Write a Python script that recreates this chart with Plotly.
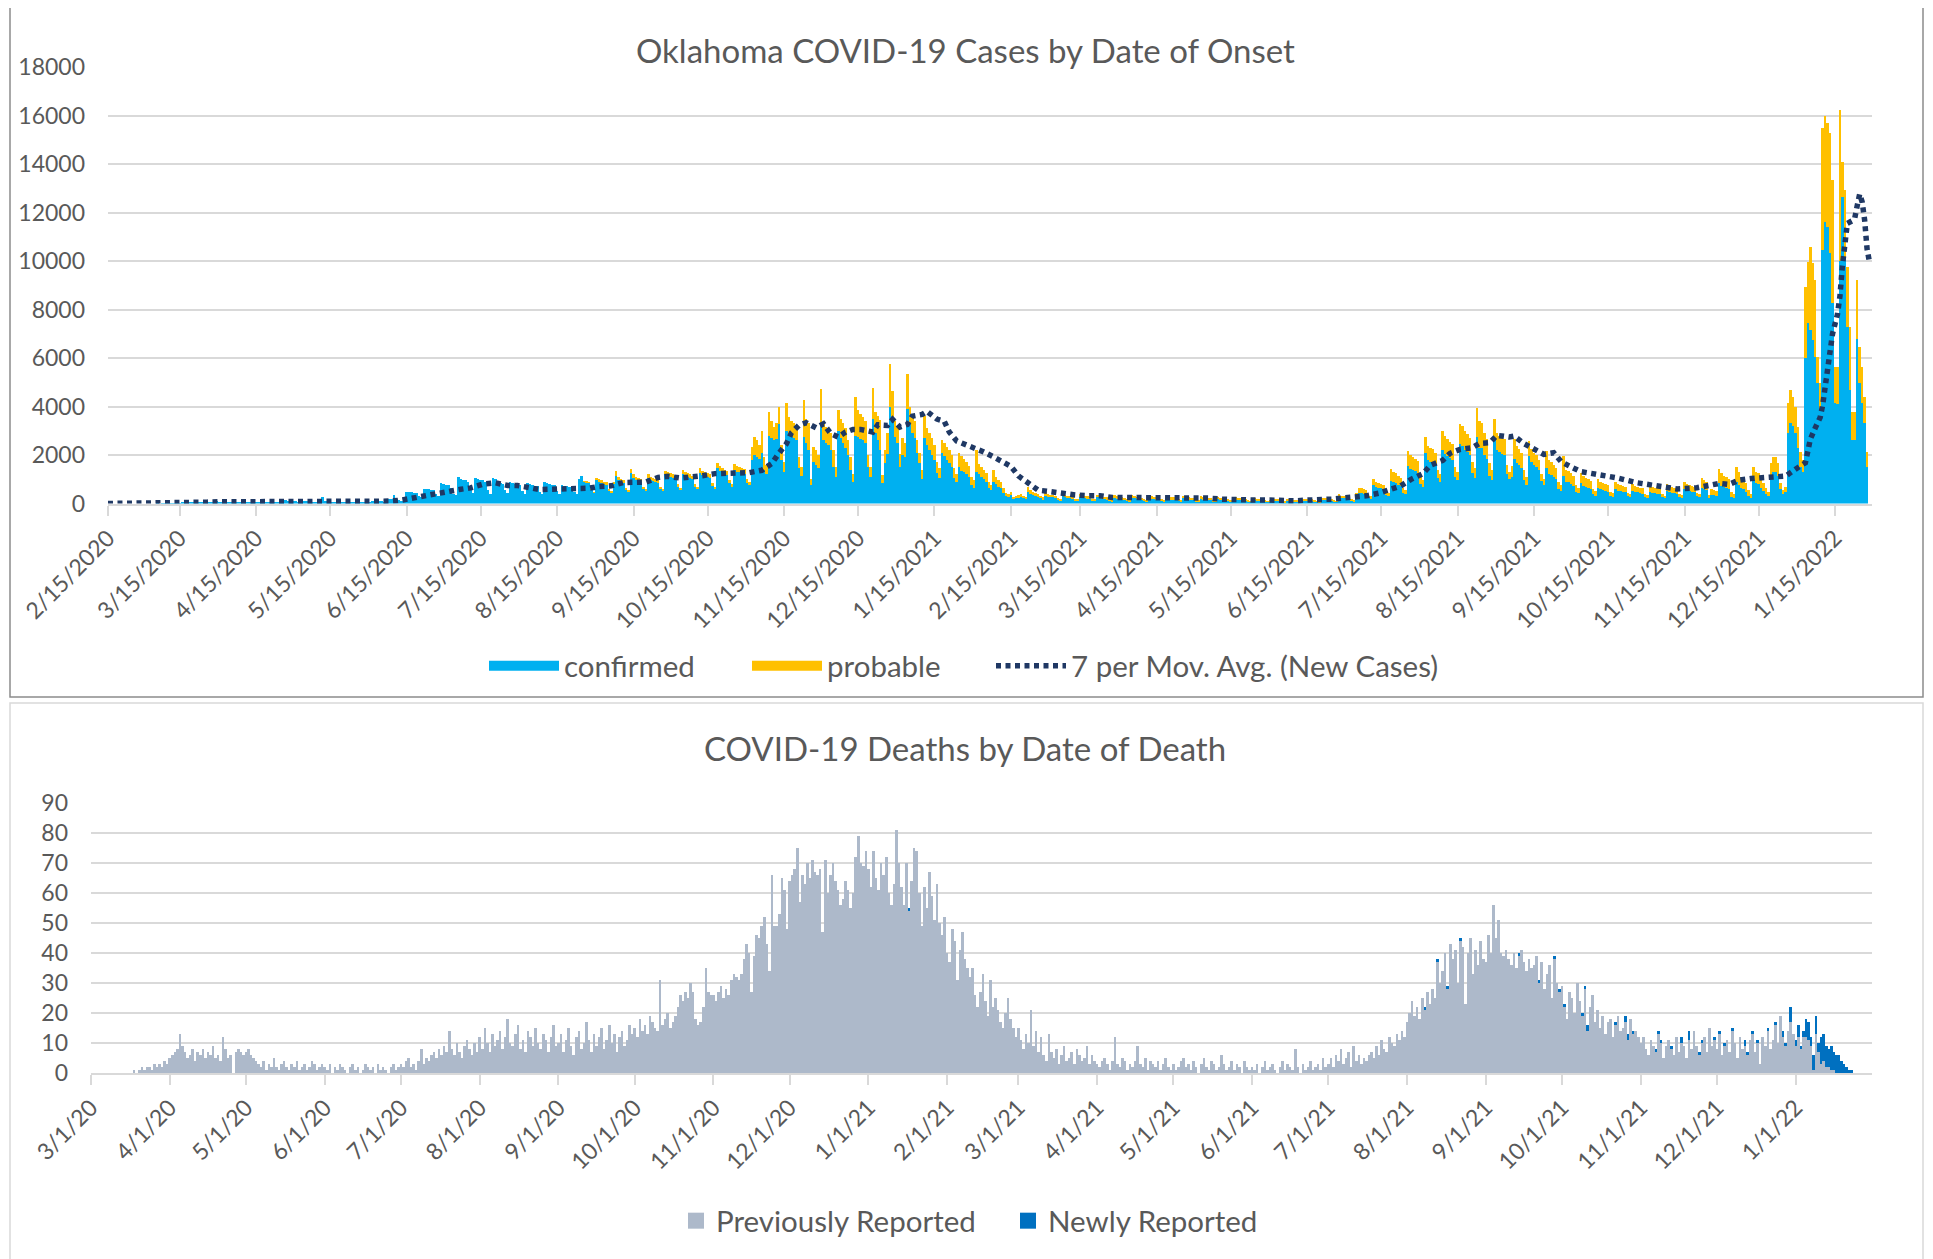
import pandas as pd
import plotly.graph_objects as go

# ---------------- Cases by date of onset (daily, from 2020-02-15) ----------------
case_start = "2020-02-15"

confirmed = [
    0, 0,
    0, 0, 0, 0, 0, 0, 0,
    0, 0, 0, 0, 0, 0, 0,
    0, 0, 0, 0, 1, 0, 1,
    2, 3, 5, 8, 10, 6, 7,
    25, 30, 35, 40, 38, 25, 22,
    60, 65, 70, 72, 68, 45, 40,
    85, 80, 78, 75, 70, 48, 42,
    80, 78, 72, 70, 65, 45, 40,
    75, 70, 68, 62, 60, 40, 35,
    80, 75, 70, 65, 62, 42, 38,
    150, 110, 95, 90, 85, 55, 45,
    110, 95, 90, 85, 80, 50, 45,
    100, 250, 90, 85, 80, 50, 45,
    90, 80, 75, 70, 65, 45, 40,
    60, 85, 80, 75, 70, 45, 40,
    110, 100, 95, 90, 85, 55, 50,
    200, 180, 350, 170, 160, 110, 100,
    490, 470, 460, 450, 430, 300, 260,
    600, 590, 580, 560, 540, 380, 330,
    840, 800, 780, 770, 620, 380, 350,
    1100, 1000, 980, 950, 900, 600, 420,
    1050, 1000, 980, 950, 900, 550, 400,
    1050, 1000, 900, 850, 800, 550, 450,
    900, 840, 800, 780, 760, 500, 400,
    840, 800, 760, 740, 720, 480, 380,
    880, 830, 800, 780, 760, 500, 400,
    780, 740, 720, 700, 680, 460, 380,
    1000, 1150, 900, 880, 850, 560, 450,
    950, 900, 860, 820, 800, 540, 450,
    800, 1150, 980, 900, 860, 580, 490,
    1250, 1060, 980, 940, 890, 620, 530,
    1060, 980, 930, 890, 840, 620, 530,
    1200, 1150, 1100, 1060, 1010, 700, 570,
    1230, 1140, 1100, 1050, 1010, 700, 610,
    1270, 1180, 1140, 1090, 1050, 740, 610,
    1450, 1360, 1270, 1230, 1180, 830, 700,
    1400, 1300, 1280, 1230, 1200, 850, 780,
    1780, 2000, 1900, 1850, 2100, 1400, 1200,
    2800, 2700, 2600, 2650, 3290, 1800, 1300,
    3000, 2880, 2750, 2700, 2600, 1450, 1150,
    2740, 2500, 2200, 750, 1700, 1600, 1450,
    3220, 2600, 2500, 2400, 2200, 1500, 1100,
    3000, 2700, 2500, 2300, 2000, 1400, 900,
    2800, 2740, 2650, 2600, 2500, 1500, 1100,
    3500, 2900, 2600, 2200, 850, 1650, 2050,
    3970, 3400, 2740, 2500, 1500, 2000, 1900,
    3900, 3300, 2900, 2700, 2100, 1650, 1000,
    2700, 2400, 2200, 2000, 1800, 1250, 1050,
    2100, 1950, 1800, 1650, 1500, 1050, 900,
    1500, 1350, 1300, 1200, 1100, 750, 650,
    1300, 1230, 1100, 1000, 900, 650, 550,
    890, 820, 700, 620, 420, 300, 280,
    340, 200, 210, 240, 280, 210, 200,
    480, 400, 340, 300, 280, 210, 180,
    330, 280, 260, 250, 230, 150, 130,
    300, 250, 235, 220, 205, 140, 115,
    270, 230, 215, 205, 190, 130, 105,
    250, 215, 205, 190, 175, 120, 100,
    240, 205, 200, 185, 170, 115, 95,
    240, 210, 200, 185, 170, 115, 95,
    235, 205, 190, 185, 170, 115, 95,
    225, 200, 185, 175, 165, 105, 85,
    210, 190, 175, 170, 155, 100, 80,
    205, 185, 170, 160, 150, 100, 80,
    190, 170, 160, 155, 140, 90, 70,
    175, 155, 150, 140, 135, 85, 70,
    170, 150, 140, 135, 120, 80, 65,
    100, 125, 120, 110, 105, 65, 50,
    125, 110, 105, 100, 90, 55, 50,
    130, 120, 110, 105, 100, 65, 50,
    170, 155, 150, 140, 135, 85, 70,
    260, 230, 215, 210, 180, 105, 90,
    300, 430, 420, 400, 370, 220, 200,
    770, 690, 650, 630, 600, 370, 320,
    940, 870, 840, 770, 720, 440, 380,
    1550, 1440, 1370, 1330, 1260, 790, 680,
    2070, 1780, 1730, 1680, 1580, 1050, 900,
    2190, 2050, 1940, 1870, 1790, 1100, 950,
    2440, 2370, 2220, 2110, 2000, 1260, 1070,
    2740, 2300, 2280, 2000, 1830, 1140, 970,
    2650, 2200, 2120, 2050, 2000, 1210, 990,
    1080, 1850, 1660, 1580, 1470, 980, 770,
    1960, 1700, 1600, 1520, 1370, 910, 760,
    1480, 1230, 1160, 1090, 990, 610, 510,
    1140, 900, 870, 800, 740, 480, 420,
    830, 740, 680, 650, 600, 390, 320,
    650, 590, 550, 520, 490, 310, 270,
    590, 520, 510, 480, 460, 290, 250,
    520, 470, 460, 430, 400, 260, 230,
    490, 440, 420, 400, 380, 250, 210,
    520, 460, 440, 420, 400, 260, 220,
    580, 520, 510, 480, 460, 290, 250,
    650, 590, 560, 220, 370, 340, 310,
    830, 730, 670, 640, 580, 280, 240,
    890, 770, 650, 610, 490, 320, 240,
    960, 840, 790, 660, 530, 400, 310,
    1170, 1300, 1300, 1150, 600, 400, 480,
    2890, 3300, 3200, 2900, 2300, 1500, 1300,
    5980, 7425, 7150, 6740, 6050, 4950, 3850,
    10450, 11620, 11410, 10310, 8250, 4130, 4100,
    10000, 12650, 10175, 7290, 4675, 2610, 2610,
    6800, 4950, 4125, 3300, 1510,
]

probable = [
    0, 0,
    0, 0, 0, 0, 0, 0, 0,
    0, 0, 0, 0, 0, 0, 0,
    0, 0, 0, 0, 0, 0, 0,
    0, 0, 0, 0, 0, 0, 0,
    0, 0, 0, 0, 0, 0, 0,
    0, 0, 0, 0, 0, 0, 0,
    0, 0, 0, 0, 0, 0, 0,
    0, 0, 0, 0, 0, 0, 0,
    0, 0, 0, 0, 0, 0, 0,
    0, 0, 0, 0, 0, 0, 0,
    0, 0, 0, 0, 0, 0, 0,
    0, 0, 0, 0, 0, 0, 0,
    0, 0, 0, 0, 0, 0, 0,
    0, 0, 0, 0, 0, 0, 0,
    0, 0, 0, 0, 0, 0, 0,
    0, 0, 0, 0, 0, 0, 0,
    0, 0, 0, 0, 0, 0, 0,
    0, 0, 0, 0, 0, 0, 0,
    0, 0, 0, 0, 0, 0, 0,
    0, 0, 0, 0, 0, 0, 0,
    0, 0, 0, 0, 0, 0, 0,
    0, 0, 0, 0, 0, 0, 0,
    0, 0, 0, 0, 0, 0, 0,
    0, 0, 0, 0, 0, 0, 0,
    0, 0, 0, 0, 0, 0, 0,
    0, 0, 0, 0, 0, 0, 0,
    0, 0, 0, 0, 0, 0, 0,
    0, 0, 10, 10, 10, 10, 10,
    120, 100, 90, 80, 80, 60, 50,
    100, 180, 120, 100, 90, 70, 60,
    190, 140, 120, 110, 110, 80, 70,
    140, 120, 120, 110, 110, 80, 70,
    150, 150, 150, 140, 140, 100, 80,
    170, 160, 150, 150, 140, 100, 90,
    180, 170, 160, 160, 150, 110, 90,
    200, 190, 180, 170, 170, 120, 100,
    240, 250, 220, 220, 240, 150, 120,
    550, 740, 700, 550, 900, 500, 400,
    970, 700, 550, 650, 680, 600, 400,
    1140, 680, 650, 600, 550, 450, 350,
    1510, 1000, 1100, 280, 630, 600, 550,
    1510, 700, 650, 600, 700, 700, 400,
    860, 800, 800, 800, 600, 500, 330,
    1580, 1100, 1050, 960, 900, 500, 400,
    1270, 870, 1000, 1230, 310, 550, 850,
    1780, 1250, 660, 700, 550, 700, 600,
    1440, 700, 800, 700, 500, 450, 370,
    900, 700, 700, 700, 600, 450, 400,
    500, 550, 550, 550, 500, 400, 300,
    600, 600, 550, 500, 450, 350, 300,
    890, 410, 400, 400, 350, 250, 200,
    480, 280, 250, 280, 200, 150, 120,
    140, 70, 90, 100, 120, 90, 80,
    200, 150, 140, 120, 120, 90, 70,
    150, 120, 110, 100, 100, 70, 50,
    120, 100, 95, 90, 85, 60, 45,
    110, 90, 85, 85, 80, 50, 45,
    100, 85, 85, 80, 75, 50, 40,
    100, 85, 80, 75, 70, 45, 35,
    100, 90, 80, 75, 70, 45, 35,
    95, 85, 80, 75, 70, 45, 35,
    95, 80, 75, 75, 65, 45, 35,
    90, 80, 75, 70, 65, 40, 30,
    85, 75, 70, 70, 60, 40, 30,
    80, 70, 70, 65, 60, 40, 30,
    75, 65, 60, 60, 55, 35, 30,
    70, 60, 60, 55, 50, 30, 25,
    40, 55, 50, 50, 45, 25, 20,
    55, 50, 45, 40, 40, 25, 20,
    60, 50, 50, 45, 40, 25, 20,
    70, 65, 60, 60, 55, 35, 30,
    120, 100, 95, 90, 80, 45, 40,
    150, 220, 210, 200, 190, 110, 100,
    230, 210, 200, 190, 180, 110, 100,
    470, 430, 410, 380, 350, 210, 180,
    610, 560, 530, 520, 490, 310, 270,
    680, 590, 570, 550, 520, 350, 300,
    800, 750, 710, 680, 660, 400, 350,
    850, 830, 780, 740, 700, 440, 380,
    1210, 1100, 1020, 900, 820, 510, 430,
    820, 700, 680, 650, 640, 390, 310,
    470, 790, 710, 670, 630, 420, 330,
    620, 530, 500, 480, 430, 290, 240,
    680, 570, 540, 510, 460, 290, 240,
    820, 500, 480, 450, 410, 270, 230,
    440, 400, 370, 350, 330, 210, 180,
    350, 310, 300, 280, 260, 170, 150,
    310, 280, 270, 260, 240, 160, 130,
    280, 250, 240, 230, 220, 140, 120,
    260, 240, 230, 220, 200, 130, 110,
    280, 240, 240, 230, 220, 140, 120,
    320, 280, 270, 260, 240, 160, 130,
    400, 360, 340, 130, 230, 210, 190,
    610, 520, 480, 460, 420, 200, 170,
    620, 540, 450, 420, 340, 230, 170,
    550, 470, 450, 370, 300, 220, 170,
    480, 625, 625, 500, 230, 150, 210,
    1240, 1380, 1200, 1090, 860, 630, 500,
    2960, 2545, 3440, 3160, 3160, 1100, 1100,
    5020, 4380, 4270, 4950, 5090, 1510, 1540,
    6230, 1450, 2750, 2470, 2615, 1170, 1170,
    2410, 1510, 1515, 1100, 620,
]

# 7-day moving average of new cases
ma_dates = [
    "2020-02-15", "2020-02-25", "2020-03-06", "2020-03-16", "2020-03-21", "2020-03-26",
    "2020-03-31", "2020-04-10", "2020-04-20", "2020-04-29", "2020-05-09", "2020-05-19",
    "2020-05-29", "2020-06-03", "2020-06-08", "2020-06-13", "2020-06-17", "2020-06-22",
    "2020-06-27", "2020-07-02", "2020-07-07", "2020-07-11", "2020-07-16", "2020-07-21",
    "2020-07-26", "2020-07-30", "2020-08-04", "2020-08-08", "2020-08-13", "2020-08-18",
    "2020-08-23", "2020-08-28", "2020-09-01", "2020-09-06", "2020-09-11", "2020-09-15",
    "2020-09-20", "2020-09-25", "2020-09-29", "2020-10-04", "2020-10-09", "2020-10-13",
    "2020-10-18", "2020-10-23", "2020-10-27", "2020-11-01", "2020-11-06", "2020-11-10",
    "2020-11-13", "2020-11-16", "2020-11-18", "2020-11-21", "2020-11-24", "2020-11-28",
    "2020-12-01", "2020-12-04", "2020-12-07", "2020-12-10", "2020-12-13", "2020-12-16",
    "2020-12-21", "2020-12-23", "2020-12-27", "2020-12-29", "2021-01-01", "2021-01-04",
    "2021-01-06", "2021-01-10", "2021-01-12", "2021-01-16", "2021-01-19", "2021-01-21",
    "2021-01-24", "2021-01-28", "2021-02-01", "2021-02-04", "2021-02-08", "2021-02-11",
    "2021-02-15", "2021-02-18", "2021-02-22", "2021-02-26", "2021-03-03", "2021-03-08",
    "2021-03-13", "2021-03-18", "2021-03-23", "2021-03-28", "2021-04-02", "2021-04-06",
    "2021-04-11", "2021-04-17", "2021-04-21", "2021-04-26", "2021-05-01", "2021-05-06",
    "2021-05-11", "2021-05-16", "2021-05-21", "2021-05-26", "2021-05-31", "2021-06-05",
    "2021-06-10", "2021-06-15", "2021-06-20", "2021-06-25", "2021-06-29", "2021-07-04",
    "2021-07-09", "2021-07-14", "2021-07-19", "2021-07-23", "2021-07-27", "2021-08-01",
    "2021-08-04", "2021-08-09", "2021-08-12", "2021-08-16", "2021-08-21", "2021-08-24",
    "2021-08-28", "2021-08-31", "2021-09-05", "2021-09-07", "2021-09-11", "2021-09-15",
    "2021-09-19", "2021-09-23", "2021-09-26", "2021-09-30", "2021-10-04", "2021-10-08",
    "2021-10-13", "2021-10-19", "2021-10-27", "2021-11-04", "2021-11-12", "2021-11-20",
    "2021-11-26", "2021-11-29", "2021-12-03", "2021-12-07", "2021-12-12", "2021-12-17",
    "2021-12-22", "2021-12-26", "2021-12-30", "2022-01-03", "2022-01-04", "2022-01-05",
    "2022-01-07", "2022-01-09", "2022-01-10", "2022-01-11", "2022-01-12", "2022-01-13",
    "2022-01-14", "2022-01-16", "2022-01-17", "2022-01-18", "2022-01-19", "2022-01-20",
    "2022-01-22", "2022-01-23", "2022-01-24", "2022-01-25", "2022-01-26", "2022-01-27",
    "2022-01-28", "2022-01-29",
]
ma_values = [
    0, 0, 0, 5, 28, 56,
    70, 70, 65, 65, 70, 80,
    65, 55, 98, 140, 224, 322,
    392, 490, 588, 644, 798, 854,
    742, 742, 672, 574, 588, 602,
    630, 630, 700, 728, 868, 882,
    882, 1078, 1120, 1050, 1092, 1148,
    1232, 1232, 1240, 1274, 1370, 1644,
    2082, 2466, 2918, 3220, 3329, 3124,
    3288, 2877, 2740, 2946, 3055, 3055,
    2946, 3247, 3220, 3466, 3151, 3261,
    3603, 3672, 3795, 3480, 3384, 2946,
    2576, 2425, 2260, 2124, 1918, 1740,
    1530, 1140, 810, 550, 490, 400,
    350, 322, 322, 250, 250, 225,
    225, 225, 225, 225, 195, 225,
    180, 150, 140, 140, 140, 110,
    110, 140, 140, 180, 220, 247,
    315, 425, 560, 726, 986, 1233,
    1575, 1780, 2070, 2233, 2300, 2480,
    2507, 2808, 2740, 2781, 2466, 2233,
    2028, 2096, 1726, 1507, 1315, 1247,
    1164, 1050, 850, 700, 600, 650,
    750, 825, 784, 960, 1030, 1060,
    1100, 1130, 1416, 1680, 2160, 2650,
    3120, 3550, 4060, 4800, 5570, 6300,
    7000, 7800, 8550, 9800, 10800, 11550,
    11660, 11760, 12280, 12760, 12440, 11700,
    10500, 9940,
]

# ---------------- Deaths by date of death (daily, from 2020-03-01) ----------------
death_start = "2020-03-01"
previously_reported = [
    # Mar 2020
    0, 0, 0, 0, 0, 0, 0, 0, 0, 0, 0, 0, 0, 0, 0, 0, 0, 1, 0, 1, 2, 1, 2, 2, 1, 3, 2, 3, 2, 4, 3,
    # Apr 2020
    5, 6, 7, 8, 13, 9, 7, 5, 6, 8, 4, 7, 6, 8, 5, 7, 6, 9, 5, 6, 4, 12, 8, 5, 6, 0, 7, 8, 7, 6,
    # May 2020
    7, 8, 6, 5, 4, 3, 2, 4, 1, 3, 2, 5, 2, 1, 3, 4, 2, 1, 3, 2, 4, 1, 2, 3, 1, 2, 4, 3, 1, 2, 3,
    # Jun 2020
    2, 1, 3, 0, 2, 1, 3, 2, 1, 0, 2, 3, 1, 2, 0, 1, 3, 2, 1, 2, 0, 3, 1, 2, 1, 0, 2, 3, 1, 2,
    # Jul 2020
    3, 2, 4, 5, 2, 3, 1, 4, 8, 3, 5, 4, 6, 7, 5, 8, 6, 9, 7, 14, 8, 6, 10, 7, 5, 9, 11, 8, 6, 10, 7,
    # Aug 2020
    12, 8, 15, 10, 7, 13, 9, 11, 14, 8, 12, 18, 10, 9, 13, 16, 8, 11, 7, 14, 12, 9, 15, 10, 8, 13, 11, 7, 12, 16, 9,
    # Sep 2020
    10, 13, 7, 11, 15, 9, 6, 12, 14, 8, 10, 17, 11, 7, 13, 9, 12, 15, 8, 11, 16, 10, 13, 7, 12, 14, 9, 11, 16, 13,
    # Oct 2020
    15, 12, 18, 14, 16, 13, 19, 17, 15, 14, 31, 16, 18, 20, 15, 17, 19, 22, 26, 24, 27, 25, 30, 27, 18, 16, 17, 22, 35, 27, 26,
    # Nov 2020
    26, 24, 27, 29, 25, 28, 26, 31, 33, 32, 31, 33, 38, 43, 40, 27, 39, 46, 45, 49, 52, 43, 34, 66, 49, 49, 53, 65, 61, 48,
    # Dec 2020
    64, 66, 68, 75, 57, 66, 63, 70, 65, 71, 67, 66, 68, 47, 71, 60, 66, 70, 64, 61, 56, 58, 64, 61, 55, 60, 72, 79, 70, 69, 74,
    # Jan 2021
    68, 62, 74, 65, 61, 70, 66, 72, 60, 56, 63, 81, 70, 62, 56, 70, 54, 64, 75, 74, 60, 49, 62, 55, 67, 59, 51, 63, 50, 46, 52,
    # Feb 2021
    40, 37, 48, 44, 31, 41, 47, 38, 35, 32, 35, 26, 22, 27, 33, 24, 19, 31, 22, 25, 21, 17, 15, 20, 25, 18, 15, 12,
    # Mar 2021
    15, 11, 8, 13, 10, 21, 9, 14, 7, 12, 6, 4, 13, 7, 5, 8, 3, 6, 9, 4, 5, 7, 3, 8, 6, 4, 5, 9, 3, 6, 4,
    # Apr 2021
    3, 2, 4, 5, 3, 1, 4, 12, 3, 2, 5, 4, 1, 3, 2, 4, 9, 3, 2, 5, 1, 4, 3, 2, 4, 1, 3, 5, 2, 1,
    # May 2021
    3, 1, 2, 4, 5, 2, 3, 1, 4, 2, 0, 3, 5, 2, 1, 4, 3, 1, 2, 6, 3, 1, 2, 4, 1, 3, 2, 0, 4, 2, 1,
    # Jun 2021
    2, 1, 3, 0, 2, 4, 1, 2, 3, 1, 0, 2, 4, 1, 3, 2, 1, 8, 2, 0, 3, 1, 2, 4, 1, 2, 3, 1, 5, 2,
    # Jul 2021
    3, 5, 2, 6, 4, 8, 3, 5, 7, 2, 9, 4, 6, 3, 5, 4, 6, 7, 5, 9, 6, 11, 8, 7, 12, 10, 9, 13, 11, 14, 12,
    # Aug 2021
    17, 20, 24, 19, 22, 18, 25, 21, 27, 23, 28, 25, 37, 30, 34, 40, 28, 43, 38, 41, 30, 44, 42, 23, 40, 45, 33, 41, 36, 44, 38,
    # Sep 2021
    37, 46, 40, 56, 45, 51, 40, 39, 41, 38, 36, 40, 35, 39, 41, 37, 34, 38, 35, 36, 39, 30, 37, 28, 33, 36, 25, 38, 30, 27,
    # Oct 2021
    29, 22, 18, 27, 25, 20, 30, 24, 19, 28, 14, 22, 26, 17, 21, 15, 19, 13, 17, 18, 12, 16, 19, 14, 15, 17, 11, 18, 13, 14, 12,
    # Nov 2021
    10, 12, 8, 6, 11, 9, 7, 13, 10, 5, 9, 11, 8, 6, 12, 7, 10, 9, 5, 11, 8, 14, 9, 6, 10, 12, 7, 15, 9, 11,
    # Dec 2021
    8, 13, 6, 9, 11, 7, 14, 10, 5, 12, 8, 9, 6, 11, 13, 7, 10, 3, 12, 9, 14, 8, 11, 16, 10, 19, 12, 9, 14, 17, 13,
    # Jan 2022
    9, 12, 8, 12, 12, 11, 9, 1, 13, 7, 3, 4, 2, 2, 1, 1, 0, 0, 0, 0, 0, 0, 0,
]

newly_dates = [
    "2021-01-17",
    "2021-08-08", "2021-08-13", "2021-08-17", "2021-08-22",
    "2021-09-14", "2021-09-22", "2021-09-28", "2021-09-30",
    "2021-10-02", "2021-10-09", "2021-10-10", "2021-10-11", "2021-10-22", "2021-10-26", "2021-10-27", "2021-10-29",
    "2021-11-07", "2021-11-08", "2021-11-09", "2021-11-13", "2021-11-17", "2021-11-20", "2021-11-24", "2021-11-25", "2021-11-30",
    "2021-12-02", "2021-12-04", "2021-12-07", "2021-12-12", "2021-12-13", "2021-12-15", "2021-12-16", "2021-12-17",
    "2021-12-21", "2021-12-24", "2021-12-27", "2021-12-28", "2021-12-30",
    "2022-01-01", "2022-01-02", "2022-01-03", "2022-01-04", "2022-01-05", "2022-01-06", "2022-01-07", "2022-01-08",
    "2022-01-09", "2022-01-10", "2022-01-11", "2022-01-12", "2022-01-13", "2022-01-14", "2022-01-15", "2022-01-16",
    "2022-01-17", "2022-01-18", "2022-01-19", "2022-01-20", "2022-01-21", "2022-01-22", "2022-01-23",
]
newly_values = [
    1,
    1, 1, 1, 1,
    1, 1, 1, 1,
    1, 1, 1, 2, 1, 2, 2, 1,
    1, 1, 1, 1, 2, 3, 1, 1, 1,
    1, 1, 1, 2, 1, 1, -1, 1,
    1, 1, 2, 1, 5,
    2, 4, 1, 2, 6, 6, 3, 5,
    6, 3, 9, 9, 7, 6, 8, 6,
    6, 6, 4, 3, 2, 1, 1,
]

assert len(confirmed) == len(probable)
assert len(ma_dates) == len(ma_values)
assert len(newly_dates) == len(newly_values)

case_dates = pd.date_range(case_start, periods=len(confirmed), freq="D")
death_dates = pd.date_range(death_start, periods=len(previously_reported), freq="D")
newly = (pd.Series(newly_values, index=pd.to_datetime(newly_dates))
         .reindex(death_dates, fill_value=0))

# ---------------- Figure ----------------
# the page body has an 8px margin, so the figure is sized/placed to compensate
OFF = 8
W, H = 1933 - OFF, 1259 - OFF


def px_x(p):
    return (p - OFF) / W


def px_y(p):
    return 1 - (p - OFF) / H


FONT = "Lato, 'Open Sans', sans-serif"
GREY = "#595959"
GRID = "#d9d9d9"
C_CONF, C_PROB, C_MA = "#00B0F0", "#FFC000", "#1F3864"
C_PREV, C_NEW = "#ADB9CA", "#0070C0"

fig = go.Figure()

fig.add_trace(go.Bar(x=case_dates, y=confirmed, name="confirmed",
                     marker=dict(color=C_CONF, line=dict(width=0)),
                     xaxis="x", yaxis="y", showlegend=False))
fig.add_trace(go.Bar(x=case_dates, y=probable, name="probable",
                     marker=dict(color=C_PROB, line=dict(width=0)),
                     xaxis="x", yaxis="y", showlegend=False))
fig.add_trace(go.Scatter(x=pd.to_datetime(ma_dates), y=ma_values, mode="lines",
                         name="7 per Mov. Avg. (New Cases)",
                         line=dict(color=C_MA, width=5.5, dash="5px,4.5px"),
                         xaxis="x", yaxis="y", legend="legend", legendrank=3))
# legend keys for the stacked columns (wide Excel-style keys)
fig.add_trace(go.Scatter(x=[None], y=[None], mode="lines", name="confirmed",
                         line=dict(color=C_CONF, width=18), legendwidth=178,
                         xaxis="x", yaxis="y", legend="legend", legendrank=1))
fig.add_trace(go.Scatter(x=[None], y=[None], mode="lines", name="probable",
                         line=dict(color=C_PROB, width=18), legendwidth=159,
                         xaxis="x", yaxis="y", legend="legend", legendrank=2))

fig.add_trace(go.Bar(x=death_dates, y=previously_reported, name="Previously Reported",
                     marker=dict(color=C_PREV, line=dict(width=0)),
                     xaxis="x2", yaxis="y2", showlegend=False))
fig.add_trace(go.Bar(x=death_dates, y=newly.values, name="Newly Reported",
                     marker=dict(color=C_NEW, line=dict(width=0)),
                     xaxis="x2", yaxis="y2", showlegend=False))
fig.add_trace(go.Scatter(x=[None], y=[None], mode="markers", name="Previously Reported",
                         marker=dict(color=C_PREV, size=18, symbol="square"), legendwidth=287,
                         xaxis="x2", yaxis="y2", legend="legend2", legendrank=1))
fig.add_trace(go.Scatter(x=[None], y=[None], mode="markers", name="Newly Reported",
                         marker=dict(color=C_NEW, size=18, symbol="square"),
                         xaxis="x2", yaxis="y2", legend="legend2", legendrank=2))

common_x = dict(type="date", tickangle=-45, ticks="outside", ticklen=10, tickwidth=2,
                tickcolor=GRID, showline=True, linecolor=GRID, linewidth=2,
                showgrid=False, zeroline=False, dtick="M1", automargin=False,
                tickfont=dict(size=23, color=GREY, family=FONT))
common_y = dict(showgrid=True, gridcolor=GRID, gridwidth=2, zeroline=False,
                showline=False, ticks="", ticklabelstandoff=22, automargin=False,
                tickfont=dict(size=23, color=GREY, family=FONT))

fig.update_layout(
    width=W, height=H,
    margin=dict(l=0, r=0, t=0, b=0, pad=0, autoexpand=False),
    paper_bgcolor="white", plot_bgcolor="white",
    barmode="relative", bargap=0,
    font=dict(family=FONT, color=GREY, size=23),
    xaxis=dict(domain=[px_x(108), px_x(1872)], anchor="y",
               range=["2020-02-15", "2022-01-30"], tick0="2020-02-15",
               tickformat="%-m/%-d/%Y", **common_x),
    yaxis=dict(domain=[px_y(503.5), px_y(67)], anchor="x",
               range=[0, 18000], dtick=2000, tickformat="d", **common_y),
    xaxis2=dict(domain=[px_x(91), px_x(1872)], anchor="y2",
                range=["2020-03-01", "2022-01-31"], tick0="2020-03-01",
                tickformat="%-m/%-d/%y", **common_x),
    yaxis2=dict(domain=[px_y(1073), px_y(803)], anchor="x2",
                range=[0, 90], dtick=10, tickformat="d", **common_y),
    legend=dict(orientation="h", x=px_x(484), xanchor="left", y=px_y(666), yanchor="middle",
                font=dict(size=29.5, color=GREY, family=FONT), itemwidth=70,
                bgcolor="rgba(0,0,0,0)", traceorder="normal", valign="middle"),
    legend2=dict(orientation="h", x=px_x(676), xanchor="left", y=px_y(1221), yanchor="middle",
                 font=dict(size=29.5, color=GREY, family=FONT), itemwidth=30,
                 bgcolor="rgba(0,0,0,0)", traceorder="normal", valign="middle"),
    annotations=[
        dict(text="Oklahoma COVID-19 Cases by Date of Onset", x=px_x(965), y=px_y(50),
             xref="paper", yref="paper", showarrow=False, xanchor="center", yanchor="middle",
             font=dict(size=33, color=GREY, family=FONT)),
        dict(text="COVID-19 Deaths by Date of Death", x=px_x(965), y=px_y(748),
             xref="paper", yref="paper", showarrow=False, xanchor="center", yanchor="middle",
             font=dict(size=33, color=GREY, family=FONT)),
    ],
    shapes=[
        dict(type="rect", xref="paper", yref="paper", x0=px_x(10), x1=px_x(1923),
             y0=px_y(697), y1=px_y(6), line=dict(color="#8c8c8c", width=1.5),
             fillcolor="rgba(0,0,0,0)", layer="below"),
        dict(type="rect", xref="paper", yref="paper", x0=px_x(10), x1=px_x(1923),
             y0=-0.02, y1=px_y(703), line=dict(color=GRID, width=1.5),
             fillcolor="rgba(0,0,0,0)", layer="below"),
    ],
)

fig.write_html("out.html")
